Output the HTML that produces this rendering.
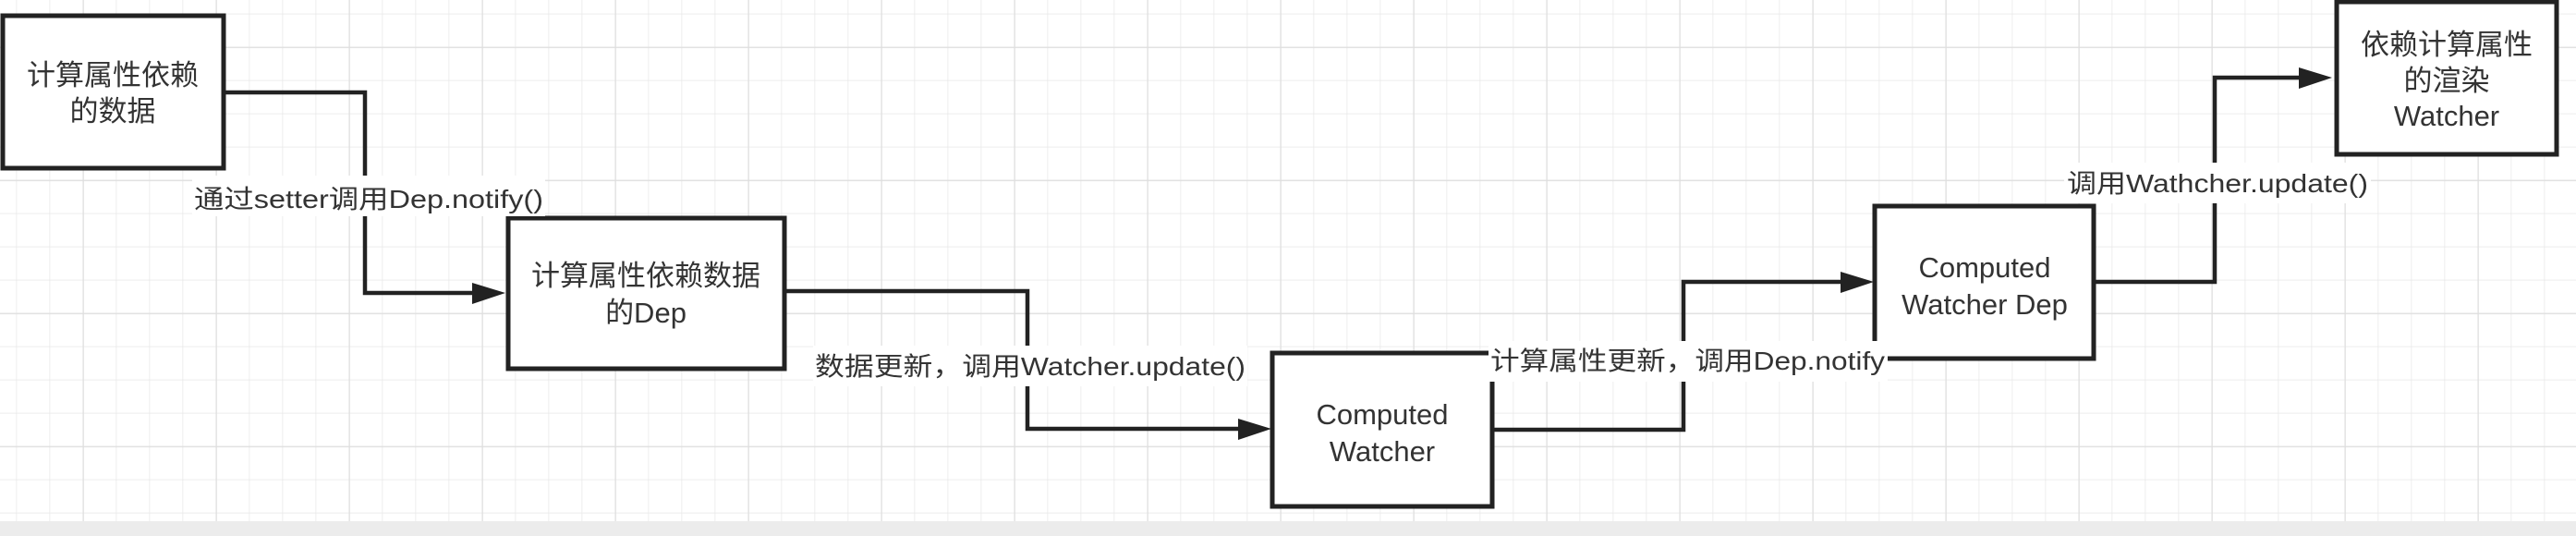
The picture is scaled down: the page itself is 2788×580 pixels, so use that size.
<!DOCTYPE html>
<html><head><meta charset="utf-8"><style>
html,body{margin:0;padding:0;background:#fff;}
svg{display:block;}
text{font-family:"Liberation Sans","Noto Sans CJK SC",sans-serif;fill:#333;}
</style></head><body>
<svg width="2788" height="580" viewBox="0 0 2788 580" xmlns="http://www.w3.org/2000/svg">
<defs>
<pattern id="g" x="17.5" y="14.7" width="36" height="36" patternUnits="userSpaceOnUse">
<path d="M0 0H36M0 0V36" stroke="#e8e8e8" stroke-width="1.5" fill="none"/>
</pattern>
<pattern id="G" x="89.5" y="50.7" width="144" height="144" patternUnits="userSpaceOnUse">
<path d="M0 0H144M0 0V144" stroke="#dedede" stroke-width="2.5" fill="none"/>
</pattern>
</defs>
<rect width="2788" height="580" fill="#fff"/>
<rect width="2788" height="564" fill="url(#g)"/>
<rect width="2788" height="564" fill="url(#G)"/>
<rect y="564" width="2788" height="16" fill="#ececec"/>

<g stroke="#222" stroke-width="4.5" fill="none">
<polyline points="243,100 395,100 395,317 514,317"/>
<polyline points="850,315 1112,315 1112,464 1342,464"/>
<polyline points="1616,465 1822,465 1822,305 1994,305"/>
<polyline points="2267,305 2397,305 2397,84 2490,84"/>
</g>
<g fill="#222">
<polygon points="511,306 547,317 511,329"/>
<polygon points="1340,453 1376,464 1340,476"/>
<polygon points="1992,294 2028,305 1992,317"/>
<polygon points="2488,73 2524,84 2488,96"/>
</g>

<g fill="#fff" stroke="#222" stroke-width="5">
<rect x="3" y="17" width="239" height="165"/>
<rect x="550" y="236" width="299" height="163"/>
<rect x="1377" y="382" width="238" height="166"/>
<rect x="2029" y="223" width="237" height="165"/>
<rect x="2529" y="2" width="238" height="165"/>
</g>

<g fill="#fff">
<rect x="208" y="190" width="382" height="44"/>
<rect x="880" y="374" width="470" height="44"/>
<rect x="1611" y="369" width="432" height="44"/>
<rect x="2234" y="176" width="332" height="44"/>
</g>

<g font-size="31" text-anchor="middle">
<text x="122" y="92">计算属性依赖</text>
<text x="122" y="131">的数据</text>
<text x="699" y="309">计算属性依赖数据</text>
<text x="699" y="349">的Dep</text>
<text x="1496" y="459">Computed</text>
<text x="1496" y="499">Watcher</text>
<text x="2148" y="300">Computed</text>
<text x="2148" y="340">Watcher Dep</text>
<text x="2648" y="59">依赖计算属性</text>
<text x="2648" y="98">的渲染</text>
<text x="2648" y="136">Watcher</text>
</g>
<g font-size="28">
<text x="210" y="225" textLength="378" lengthAdjust="spacingAndGlyphs">通过setter调用Dep.notify()</text>
<text x="882" y="406" textLength="466" lengthAdjust="spacingAndGlyphs">数据更新，调用Watcher.update()</text>
<text x="1613" y="400" textLength="427" lengthAdjust="spacingAndGlyphs">计算属性更新，调用Dep.notify</text>
<text x="2237" y="208" textLength="326" lengthAdjust="spacingAndGlyphs">调用Wathcher.update()</text>
</g>
</svg>
</body></html>
